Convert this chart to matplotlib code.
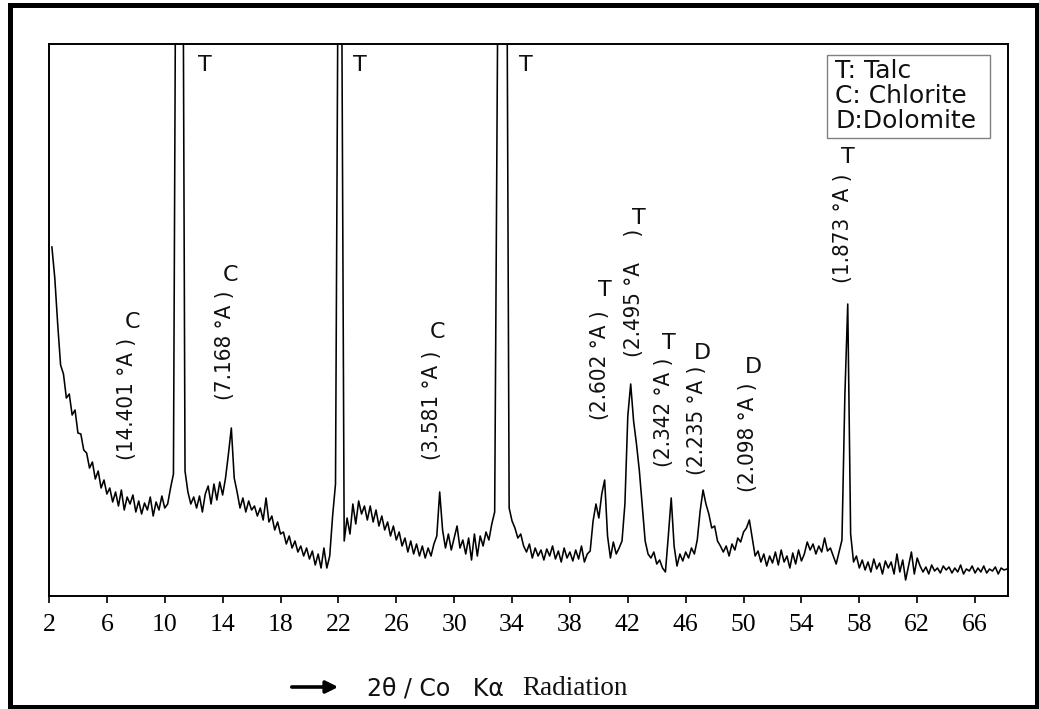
import numpy as np
import matplotlib
matplotlib.use("Agg")
import matplotlib.pyplot as plt
from matplotlib.patches import Rectangle, FancyArrowPatch

# ---------------- data ----------------
# 2-theta sampling grid (degrees, Co K-alpha), step 0.2
two_theta = np.round(np.linspace(2.2, 68.2, 331), 2)

# intensity (arbitrary units; 0..552 is the visible range, larger values are off-scale)
intensity = [
    349, 318, 272, 231, 222, 198, 202, 181, 186, 163,   # 2.2 - 4.0
    162, 146, 143, 128, 134, 117, 125, 108, 116, 102,   # 4.2 - 6.0
    108, 94, 104, 90, 106, 86, 99, 92, 101, 84,         # 6.2 - 8.0
    95, 82, 93, 86, 99, 80, 94, 86, 100, 88,            # 8.2 - 10.0
    92, 108, 122, 800, 3000, 900, 125, 104, 92, 99,     # 10.2 - 12.0
    88, 100, 84, 102, 110, 92, 112, 96, 114, 101,       # 12.2 - 14.0
    118, 142, 168, 118, 104, 88, 98, 84, 95, 86,        # 14.2 - 16.0
    90, 80, 88, 76, 98, 74, 80, 66, 74, 62,             # 16.2 - 18.0
    64, 52, 60, 48, 55, 44, 50, 40, 48, 37,             # 18.2 - 20.0
    45, 31, 42, 28, 48, 28, 40, 80, 112, 700,           # 20.2 - 22.0
    700, 55, 78, 62, 92, 72, 95, 82, 90, 76,            # 22.2 - 24.0
    90, 74, 86, 70, 80, 66, 74, 60, 70, 56,             # 24.2 - 26.0
    64, 50, 58, 44, 55, 42, 52, 40, 50, 38,             # 26.2 - 28.0
    48, 40, 52, 60, 104, 66, 48, 62, 46, 58,            # 28.2 - 30.0
    70, 48, 56, 42, 58, 36, 62, 40, 60, 50,             # 30.2 - 32.0
    64, 56, 72, 84, 560, 3000, 3000, 800, 88, 75,       # 32.2 - 34.0
    68, 58, 62, 50, 44, 52, 38, 48, 40, 46,             # 34.2 - 36.0
    36, 47, 40, 50, 37, 45, 34, 48, 38, 44,             # 36.2 - 38.0
    35, 46, 37, 50, 34, 42, 45, 75, 92, 78,             # 38.2 - 40.0
    102, 116, 60, 38, 54, 42, 48, 55, 92, 180,          # 40.2 - 42.0
    212, 175, 152, 125, 90, 55, 42, 38, 44, 32,         # 42.2 - 44.0
    36, 28, 24, 60, 98, 50, 30, 42, 35, 44,             # 44.2 - 46.0
    38, 48, 42, 56, 85, 106, 92, 82, 68, 70,            # 46.2 - 48.0
    55, 50, 44, 50, 40, 52, 46, 58, 54, 64,             # 48.2 - 50.0
    68, 76, 58, 40, 45, 34, 42, 30, 40, 33,             # 50.2 - 52.0
    44, 31, 46, 34, 40, 28, 43, 32, 46, 35,             # 52.2 - 54.0
    42, 54, 46, 52, 42, 50, 44, 58, 45, 48,             # 54.2 - 56.0
    40, 32, 44, 56, 200, 292, 62, 34, 40, 28,           # 56.2 - 58.0
    36, 26, 34, 24, 37, 27, 33, 22, 35, 28,             # 58.2 - 60.0
    34, 22, 42, 24, 36, 16, 30, 44, 22, 38,             # 60.2 - 62.0
    30, 24, 29, 22, 31, 25, 28, 23, 30, 26,             # 62.2 - 64.0
    29, 23, 28, 24, 31, 22, 27, 25, 30, 23,             # 64.2 - 66.0
    28, 24, 30, 23, 27, 25, 29, 22, 28, 26,             # 66.2 - 68.0
    27,                                                 # 68.2
]

tick_values = [2, 6, 10, 14, 18, 22, 26, 30, 34, 38, 42, 46, 50, 54, 58, 62, 66]
tick_labels = [str(v) for v in tick_values]

# peak annotations
peak_texts = ["(14.401 \u00b0A )", "(7.168 \u00b0A )", "(3.581 \u00b0A )",
              "(2.602 \u00b0A )", "(2.495 \u00b0A    )", "(2.342 \u00b0A )",
              "(2.235 \u00b0A )", "(2.098 \u00b0A )", "(1.873 \u00b0A )"]
peak_phases = ["C", "C", "C", "T", "T", "T", "D", "D", "T"]
# positions of the annotations (2theta, intensity units)
peak_label_x = [7.39, 14.16, 28.47, 40.08, 42.43, 44.50, 46.78, 50.31, 56.87]
peak_label_bottom = [136, 196, 136, 176, 239, 129, 121, 104, 313]
peak_letter_top = [284, 331, 274, 316, 388, 263, 253, 239, 449]

top_T_x = [12.28, 23.03, 34.48]

legend_lines = ["T: Talc", "C: Chlorite", "D:Dolomite"]

# ---------------- figure ----------------
W, H = 1039, 709
fig = plt.figure(figsize=(W / 100, H / 100), dpi=100)
fx = lambda px: px / W
fy = lambda py: 1 - py / H

ax = fig.add_axes([fx(49), fy(596), (1008 - 49) / W, (596 - 44) / H])
ax.plot(two_theta, intensity, color="black", lw=1.15)
ax.set_xlim(2, 68.275)
ax.set_ylim(0, 552)
ax.set_yticks([])
ax.set_xticks(tick_values)
ax.set_xticklabels(tick_labels, fontfamily="Liberation Serif", fontsize=18.5)
ax.tick_params(axis="x", direction="out", length=5, width=1.2, pad=8, colors="black")
for s in ax.spines.values():
    s.set_linewidth(1.4)
    s.set_color("black")

sans = ["DejaVu Sans"]
for x, txt, ph, yb, yt in zip(peak_label_x, peak_texts, peak_phases,
                              peak_label_bottom, peak_letter_top):
    ax.text(x, yb, txt, rotation=90, ha="center", va="bottom",
            fontsize=16, fontstretch="condensed", family=sans, color="#111111")
    ax.text(x + 0.35, yt, ph, ha="center", va="top", fontsize=16,
            family=sans, color="#111111")

for x in top_T_x:
    ax.text(x, 541, "T", ha="left", va="top", fontsize=16, family=sans, color="#111111")

# legend box
fig.patches.append(Rectangle((fx(827), fy(138)), (990 - 827) / W, (138 - 55) / H,
                             transform=fig.transFigure, facecolor="white",
                             edgecolor="#808080", lw=1.0, zorder=5))
for txt, base in zip(legend_lines, [78, 103, 128]):
    fig.text(fx(835), fy(base), txt, ha="left", va="baseline", fontsize=18,
             family=sans, color="#111111", zorder=6)

# x label: arrow + text
fig.patches.append(FancyArrowPatch(
    (fx(289), fy(687)), (fx(341), fy(687)), transform=fig.transFigure,
    arrowstyle="-|>", mutation_scale=18, lw=2.6, color="black"))
fig.text(fx(367), fy(695), "2\u03b8 / Co   K\u03b1", ha="left", va="baseline",
         fontsize=17, family=sans, color="#111111")
fig.text(fx(522), fy(695), "Radiation", ha="left", va="baseline",
         fontsize=19.5, family=["Liberation Serif"], color="#111111")

# outer frame
fig.patches.append(Rectangle((fx(9.5), fy(706.5)), (1036.5 - 9.5) / W, (706.5 - 5) / H,
                             transform=fig.transFigure, fill=False,
                             edgecolor="black", lw=3.6))

fig.savefig("out.png", dpi=100)
